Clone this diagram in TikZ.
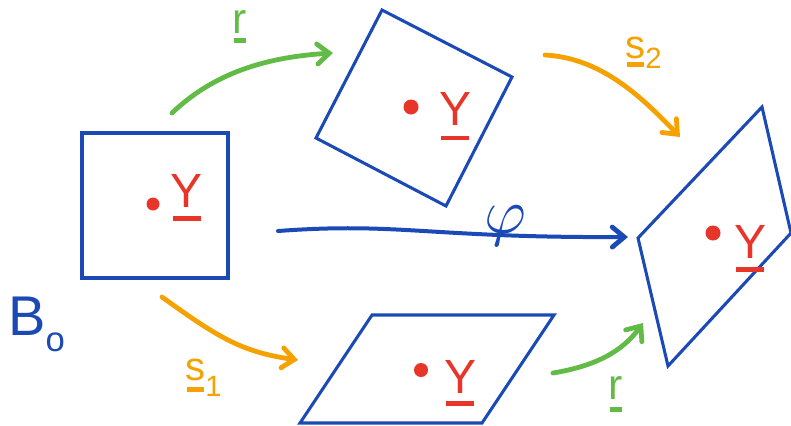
\documentclass[tikz,border=0pt]{standalone}
\usepackage{fontspec}
\usepackage{graphicx}
\setmainfont{Liberation Sans}
\usetikzlibrary{arrows.meta}
\definecolor{hblue}{HTML}{1B49B5}
\definecolor{hred}{HTML}{E8352A}
\definecolor{hgreen}{HTML}{63BB47}
\definecolor{horange}{HTML}{F5A200}
\newcommand\ulv[2][5pt]{\setbox0\hbox{#2}\vtop{\offinterlineskip\copy0\kern#1\hbox to\wd0{\hss\vrule width 0.85\wd0 height 3.4pt depth 0pt\hss}}}
\begin{document}
\begin{tikzpicture}[x=0.75pt,y=-0.75pt,
  frame/.style={draw=hblue,line width=2.3pt,line join=miter},
  ylab/.style={text=hred,font=\fontsize{36}{36}\selectfont,anchor=base,inner sep=0pt},
  gl/.style={text=hgreen,font=\fontsize{32}{32}\selectfont,anchor=base,inner sep=0pt},
  ol/.style={text=horange,font=\fontsize{30}{30}\selectfont,anchor=base west,inner sep=0pt},
  harrow/.style={line width=3.6pt,line cap=round,-{Straight Barb[length=9pt,width=15pt,line cap=round,line width=3.6pt]}},
  dotc/.style={fill=hred}]
\useasboundingbox (0,0) rectangle (791,425);
% frames
\draw[frame] (82,133) rectangle (228,278);
\draw[frame] (382,10) -- (512,77) -- (446,206) -- (316,138) -- cycle;
\draw[frame] (372,315) -- (554,315) -- (482,423) -- (300,423) -- cycle;
\draw[frame] (762,107) -- (791,233) -- (668,366) -- (638,238) -- cycle;
% dots
\fill[dotc] (153,204) circle (6.5);
\fill[dotc] (411,107) circle (7.5);
\fill[dotc] (421,370) circle (7);
\fill[dotc] (713,233) circle (7.5);
% Y labels
\node[ylab] (y0) at (187,207) {\ulv[7pt]{Y}};
\node[ylab] (y1) at (455,125) {\ulv[8pt]{Y}};
\node[ylab] (y2) at (460,393) {\ulv[6pt]{Y}};
\node[ylab] (y3) at (750,258) {\ulv[7pt]{Y}};
% B0
\node[text=hblue,font=\fontsize{42}{42}\selectfont,anchor=base west,inner sep=0pt] (b0) at (8,335) {B\raisebox{-12pt}{\fontsize{26}{26}\selectfont o}};
% arrow endpoints
\coordinate (r1s) at (172,113); \coordinate (r1e) at (333,53);
\coordinate (s2s) at (545,55);  \coordinate (s2e) at (680,137);
\coordinate (phs) at (278,231); \coordinate (phe) at (628,237);
\coordinate (s1s) at (162,297); \coordinate (s1e) at (298,360);
\coordinate (r2s) at (553,373); \coordinate (r2e) at (643,323);
% arrows
\draw[harrow,hgreen] (r1s) .. controls (215,72) and (268,57) .. (r1e);
\draw[harrow,horange] (s2s) .. controls (600,58) and (640,95) .. (s2e);
\draw[harrow,hblue,line width=3pt] (phs) .. controls (400,222) and (430,238) .. (phe);
\draw[harrow,horange] (s1s) .. controls (215,335) and (240,352) .. (s1e);
\draw[harrow,hgreen] (r2s) .. controls (595,366) and (622,352) .. (r2e);
% labels
\node[gl] (rl1) at (240,33) {\ulv[4pt]{r}};
\node[gl] (rl2) at (616,399) {\ulv[6pt]{r}};
\node[ol] (sl2) at (625,58) {\ulv[3pt]{s}\raisebox{-8pt}{\fontsize{22}{22}\selectfont 2}};
\node[ol] (sl1) at (185,380) {\ulv[5pt]{s}\raisebox{-12pt}{\fontsize{22}{22}\selectfont 1}};
\node[text=hblue,anchor=base,inner sep=0pt] (phi) at (505,233) {\scalebox{4.8}{$\varphi$}};
\end{tikzpicture}
\end{document}
